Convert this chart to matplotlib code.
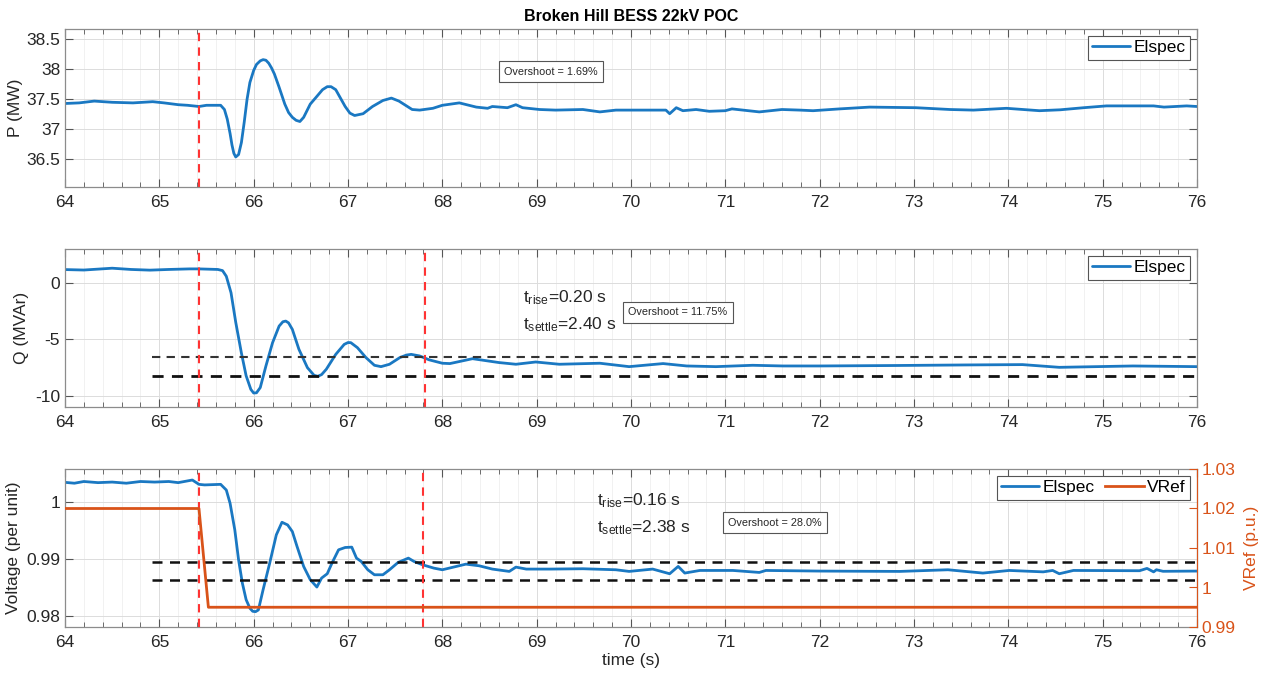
import matplotlib
matplotlib.use("Agg")
import matplotlib.pyplot as plt
from matplotlib.ticker import MultipleLocator

plt.rcParams['font.family'] = ['Liberation Sans', 'DejaVu Sans']

# ---------------- data ----------------
P_t = [64.0, 64.15, 64.31, 64.5, 64.72, 64.93, 65.05, 65.2, 65.3, 65.42, 65.5, 65.65,
       65.69, 65.72, 65.75, 65.77, 65.79, 65.81, 65.84, 65.87, 65.9, 65.93, 65.96, 66.0,
       66.03, 66.07, 66.1, 66.13, 66.16, 66.19, 66.22, 66.27, 66.33, 66.37, 66.41, 66.45,
       66.49, 66.53, 66.6, 66.66, 66.73, 66.78, 66.82, 66.87, 66.92, 66.97, 67.02, 67.07,
       67.16, 67.26, 67.37, 67.46, 67.54, 67.68, 67.76, 67.9, 68.0, 68.18, 68.36, 68.48,
       68.53, 68.69, 68.78, 68.85, 69.03, 69.2, 69.49, 69.67, 69.84, 70.2, 70.37, 70.41,
       70.48, 70.55, 70.69, 70.83, 71.0, 71.07, 71.36, 71.6, 71.79, 71.93, 72.21, 72.53,
       73.02, 73.38, 73.63, 73.98, 74.33, 74.55, 74.8, 75.04, 75.54, 75.65, 75.89, 76.0]
P_v = [37.43, 37.44, 37.47, 37.45, 37.44, 37.46, 37.44, 37.41, 37.40, 37.38, 37.40, 37.40,
       37.33, 37.17, 36.93, 36.74, 36.60, 36.54, 36.58, 36.78, 37.12, 37.50, 37.78, 37.98,
       38.08, 38.14, 38.16, 38.15, 38.10, 38.02, 37.92, 37.70, 37.42, 37.28, 37.20, 37.15,
       37.13, 37.20, 37.42, 37.53, 37.66, 37.71, 37.71, 37.66, 37.52, 37.38, 37.27, 37.23,
       37.26, 37.38, 37.48, 37.52, 37.47, 37.33, 37.32, 37.35, 37.40, 37.44, 37.37, 37.35,
       37.38, 37.36, 37.41, 37.36, 37.33, 37.32, 37.33, 37.29, 37.32, 37.32, 37.32, 37.26,
       37.36, 37.31, 37.33, 37.30, 37.31, 37.34, 37.29, 37.33, 37.32, 37.31, 37.34, 37.37,
       37.36, 37.33, 37.32, 37.35, 37.31, 37.325, 37.36, 37.39, 37.39, 37.37, 37.39, 37.38]

Q_t = [64.0, 64.2, 64.5, 64.7, 64.9, 65.1, 65.32, 65.42, 65.62, 65.67, 65.71, 65.76, 65.81,
       65.87, 65.92, 65.97, 66.0, 66.03, 66.07, 66.13, 66.2, 66.27, 66.31, 66.34, 66.37,
       66.41, 66.48, 66.57, 66.64, 66.68, 66.72, 66.77, 66.87, 66.96, 67.0, 67.03, 67.1,
       67.19, 67.28, 67.35, 67.44, 67.55, 67.62, 67.67, 67.76, 67.86, 68.0, 68.08, 68.32,
       68.6, 68.78, 68.99, 69.24, 69.67, 69.98, 70.34, 70.59, 70.9, 71.29, 71.61, 72.0,
       72.8, 73.55, 74.15, 74.54, 75.32, 76.0]
Q_v = [1.14, 1.10, 1.26, 1.15, 1.09, 1.15, 1.20, 1.20, 1.15, 1.05, 0.55, -0.90, -3.50,
       -6.20, -8.20, -9.40, -9.72, -9.70, -9.24, -7.34, -5.30, -3.83, -3.45, -3.39, -3.55,
       -4.12, -5.88, -7.49, -8.16, -8.25, -8.10, -7.63, -6.32, -5.44, -5.28, -5.29, -5.73,
       -6.60, -7.28, -7.40, -7.19, -6.60, -6.38, -6.32, -6.46, -6.80, -7.10, -7.13, -6.70,
       -7.04, -7.19, -6.99, -7.19, -7.10, -7.40, -7.13, -7.34, -7.40, -7.28, -7.34, -7.34,
       -7.30, -7.25, -7.22, -7.46, -7.34, -7.40]

V_t = [64.0, 64.1, 64.2, 64.35, 64.5, 64.65, 64.8, 64.95, 65.1, 65.2, 65.35, 65.42, 65.48,
       65.65, 65.71, 65.75, 65.8, 65.84, 65.88, 65.92, 65.96, 65.99, 66.02, 66.05, 66.1,
       66.17, 66.24, 66.3, 66.36, 66.41, 66.46, 66.53, 66.6, 66.67, 66.72, 66.78, 66.83,
       66.9, 66.97, 67.04, 67.09, 67.14, 67.21, 67.28, 67.37, 67.44, 67.53, 67.64, 67.7,
       67.79, 67.91, 68.0, 68.25, 68.39, 68.53, 68.71, 68.78, 68.89, 69.14, 69.49, 69.84,
       69.98, 70.23, 70.41, 70.5, 70.57, 70.73, 71.08, 71.36, 71.43, 72.0, 72.85, 73.36,
       73.73, 74.01, 74.37, 74.47, 74.54, 74.69, 75.39, 75.47, 75.54, 75.57, 75.64, 76.0]
V_v = [1.00345, 1.0033, 1.0036, 1.0034, 1.0035, 1.0033, 1.0036, 1.0035, 1.0036, 1.0034,
       1.00386, 1.0031, 1.0030, 1.0031, 1.0021, 0.99977, 0.99509, 0.98982, 0.98573, 0.98281,
       0.98130, 0.98076, 0.98070, 0.98100, 0.98456, 0.98924, 0.99421, 0.99643, 0.99596,
       0.99479, 0.99216, 0.98865, 0.98632, 0.98503, 0.98661, 0.98737, 0.98924, 0.99158,
       0.99199, 0.99205, 0.99012, 0.98953, 0.98807, 0.98719, 0.98719, 0.98807, 0.98935,
       0.99012, 0.98953, 0.98895, 0.98836, 0.98807, 0.98906, 0.98877, 0.98819, 0.98778,
       0.98854, 0.98819, 0.98819, 0.98825, 0.98807, 0.98778, 0.98819, 0.98737, 0.98866,
       0.98749, 0.98795, 0.98795, 0.98760, 0.98795, 0.98784, 0.98778, 0.98807, 0.98749,
       0.98795, 0.98770, 0.98795, 0.98737, 0.98795, 0.98790, 0.98831, 0.98770, 0.98807,
       0.98780, 0.98784]

VRef_t = [64.0, 65.42, 65.52, 76.0]
VRef_v = [1.02, 1.02, 0.995, 0.995]

t_step = 65.42
t_settle_Q = 67.82
t_settle_V = 67.80
band_start = 64.92
Q_band = [-6.52, -8.22]
V_band = [0.98935, 0.9862]

title = "Broken Hill BESS 22kV POC"
overshoot_P = "Overshoot = 1.69%"
overshoot_Q = "Overshoot = 11.75%"
overshoot_V = "Overshoot = 28.0%"

# ---------------- style ----------------
BLUE = '#1a78c2'
ORANGE = '#D95319'
TXT = '#262626'
EDGE = '#8c8c8c'

fig = plt.figure(figsize=(12.65, 6.77), dpi=100)
W, H = 1265, 677

def make_ax(top_px, bot_px):
    return fig.add_axes([65 / W, 1 - bot_px / H, (1197 - 65) / W, (bot_px - top_px) / H])

ax1 = make_ax(29, 187)
ax2 = make_ax(249, 407)
ax3 = make_ax(469, 627)

def style(ax, right=True):
    ax.set_xlim(64, 76)
    ax.xaxis.set_major_locator(MultipleLocator(1))
    ax.xaxis.set_minor_locator(MultipleLocator(0.2))
    ax.grid(True, which='major', color='#dcdcdc', lw=0.7)
    ax.grid(True, which='minor', axis='x', color='#efefef', lw=0.6)
    ax.set_axisbelow(True)
    for s in ax.spines.values():
        s.set_color(EDGE)
        s.set_linewidth(0.9)
    ax.tick_params(which='both', direction='in', top=True, right=right,
                   colors='#555555', labelcolor=TXT, labelsize=12.5)
    ax.tick_params(which='major', length=6)
    ax.tick_params(which='minor', length=3.5)
    ax.tick_params(axis='x', pad=6)

for ax in (ax1, ax2):
    style(ax)
style(ax3, right=False)

LINE_KW = dict(lw=2, solid_joinstyle='round', solid_capstyle='round')
BOX = dict(boxstyle='square,pad=0.5', fc='white', ec='#555555', lw=0.8)
LEG_KW = dict(fontsize=12.5, frameon=True, fancybox=False, edgecolor='#555555',
              handlelength=2.2, handletextpad=0.2, borderpad=0.25, borderaxespad=0.4,
              framealpha=1)
ANN_FS = 12.5

# Panel 1: P
ax1.plot(P_t, P_v, color=BLUE, label='Elspec', **LINE_KW)
ax1.axvline(t_step, color='#ff3333', ls=(0, (4, 3)), lw=1.5)
ax1.set_ylim(36.04, 38.67)
ax1.set_yticks([36.5, 37, 37.5, 38, 38.5])
ax1.set_yticklabels(['36.5', '37', '37.5', '38', '38.5'])
ax1.set_ylabel('P (MW)', fontsize=12.5, color=TXT, labelpad=2)
ax1.set_title(title, fontsize=11.5, fontweight='bold', color='black', pad=6)
ax1.text(0.388, 0.731, overshoot_P, transform=ax1.transAxes, fontsize=7.8, va='center',
         color=TXT, bbox=BOX)
ax1.legend(loc='upper right', **LEG_KW).get_frame().set_linewidth(0.8)

# Panel 2: Q
ax2.plot(Q_t, Q_v, color=BLUE, label='Elspec', **LINE_KW)
ax2.plot([band_start, 76], [Q_band[0]] * 2, color='#333333', ls=(0, (4, 3)), lw=1.5)
ax2.plot([band_start, 76], [Q_band[1]] * 2, color='#111111', ls=(0, (4, 3)), lw=2)
ax2.axvline(t_step, color='#ff3333', ls=(0, (4, 3)), lw=1.5)
ax2.axvline(t_settle_Q, color='#ff3333', ls=(0, (4, 3)), lw=1.5)
ax2.set_ylim(-10.95, 2.95)
ax2.set_yticks([-10, -5, 0])
ax2.set_yticklabels(['-10', '-5', '0'])
ax2.set_ylabel('Q (MVAr)', fontsize=12.5, color=TXT, labelpad=4)
ax2.text(0.405, 0.69, r'$\mathregular{t_{rise}}$=0.20 s', transform=ax2.transAxes,
         fontsize=ANN_FS, color=TXT, va='center')
ax2.text(0.405, 0.52, r'$\mathregular{t_{settle}}$=2.40 s', transform=ax2.transAxes,
         fontsize=ANN_FS, color=TXT, va='center')
ax2.text(0.4975, 0.60, overshoot_Q, transform=ax2.transAxes, fontsize=7.8, va='center',
         color=TXT, bbox=BOX)
ax2.legend(loc='upper right', **LEG_KW).get_frame().set_linewidth(0.8)

# Panel 3: Voltage
l1, = ax3.plot(V_t, V_v, color=BLUE, label='Elspec', **LINE_KW)
ax3.plot([band_start, 76], [V_band[0]] * 2, color='#111111', ls=(0, (4, 3)), lw=1.8)
ax3.plot([band_start, 76], [V_band[1]] * 2, color='#111111', ls=(0, (4, 3)), lw=1.8)
ax3.axvline(t_step, color='#ff3333', ls=(0, (4, 3)), lw=1.5, zorder=5)
ax3.axvline(t_settle_V, color='#ff3333', ls=(0, (4, 3)), lw=1.5)
ax3.set_ylim(0.9780, 1.0058)
ax3.set_yticks([0.98, 0.99, 1.0])
ax3.set_yticklabels(['0.98', '0.99', '1'])
ax3.set_ylabel('Voltage (per unit)', fontsize=12.5, color=TXT, labelpad=4)
ax3.set_xlabel('time (s)', fontsize=12.5, color=TXT, labelpad=2)
ax3.text(0.47, 0.80, r'$\mathregular{t_{rise}}$=0.16 s', transform=ax3.transAxes,
         fontsize=ANN_FS, color=TXT, va='center')
ax3.text(0.47, 0.63, r'$\mathregular{t_{settle}}$=2.38 s', transform=ax3.transAxes,
         fontsize=ANN_FS, color=TXT, va='center')
ax3.text(0.5857, 0.66, overshoot_V, transform=ax3.transAxes, fontsize=7.8, va='center',
         color=TXT, bbox=BOX)

ax3r = ax3.twinx()
l2, = ax3r.plot(VRef_t, VRef_v, color=ORANGE, label='VRef', lw=2)
ax3r.set_ylim(0.99, 1.03)
ax3r.set_yticks([0.99, 1.0, 1.01, 1.02, 1.03])
ax3r.set_yticklabels(['0.99', '1', '1.01', '1.02', '1.03'])
ax3r.tick_params(direction='in', colors=ORANGE, labelcolor=ORANGE, labelsize=12.5, length=6)
ax3r.spines['right'].set_color(ORANGE)
for s in ('left', 'top', 'bottom'):
    ax3r.spines[s].set_visible(False)
ax3r.set_ylabel('VRef (p.u.)', fontsize=12.5, color=ORANGE, labelpad=6)
leg = ax3r.legend([l1, l2], ['Elspec', 'VRef'], loc='upper right', ncol=2,
                  columnspacing=0.6, **LEG_KW)
leg.get_frame().set_linewidth(0.8)

fig.savefig('out.png', dpi=100)
